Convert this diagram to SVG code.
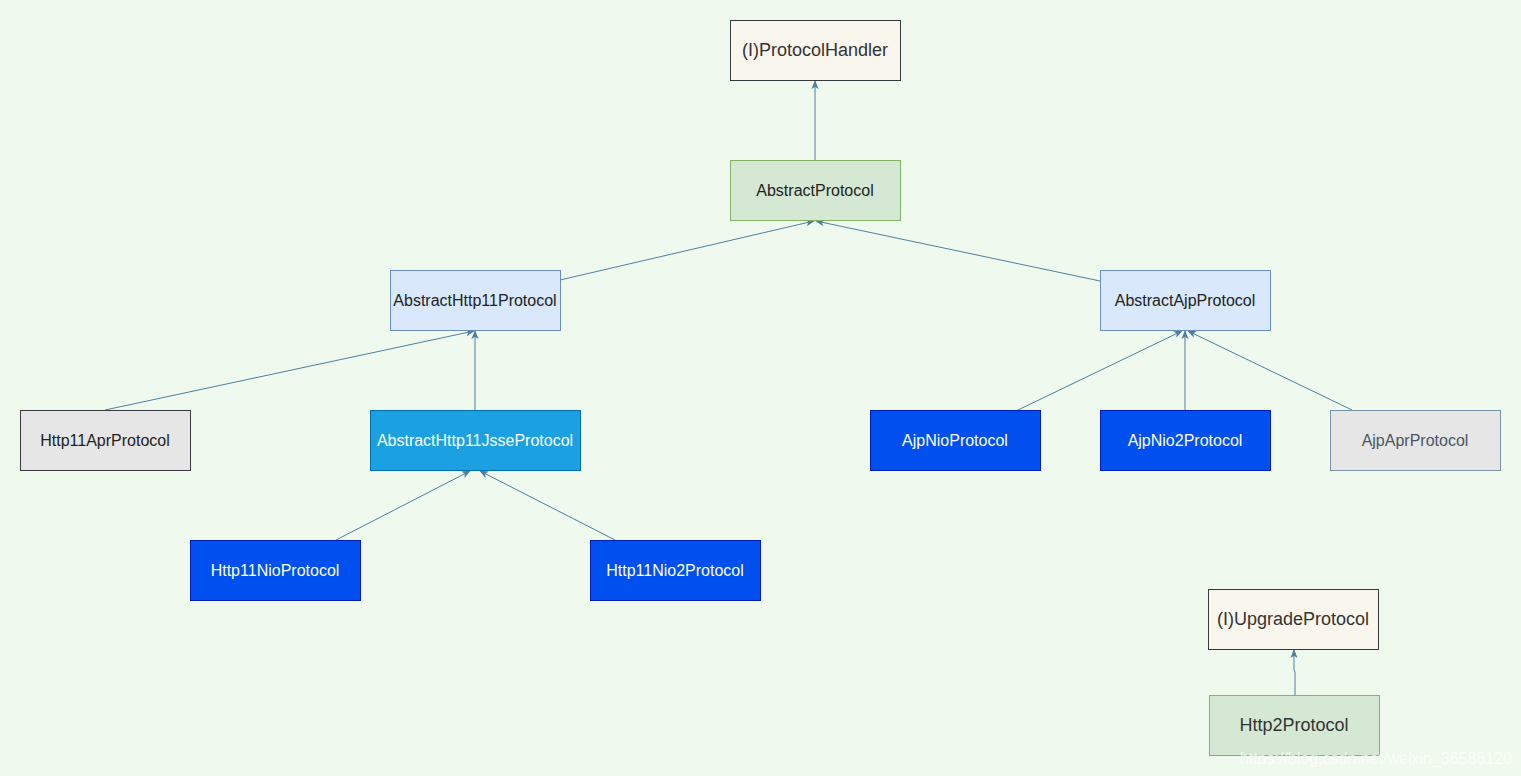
<svg xmlns="http://www.w3.org/2000/svg" width="1521" height="776" viewBox="0 0 1521 776">
<defs>
<style>
.n rect{stroke-width:1}
.t{font-family:"Liberation Sans",Arial,sans-serif;font-size:16px;text-anchor:middle;dominant-baseline:central}
.iface rect{fill:#f9f7ed;stroke:#36393d}
.iface text{fill:#333;font-size:18px}
.green rect{fill:#d5e8d4;stroke:#82b366}
.green text{fill:#222}
.blue rect{fill:#dae8fc;stroke:#6c8ebf}
.blue text{fill:#222}
.gray rect{fill:#e6e6e6;stroke:#36393d}
.gray text{fill:#222}
.gray2 rect{fill:#e6e6e6;stroke:#7a90a8}
.gray2 text{fill:#4a5564}
.sky rect{fill:#1ba1e2;stroke:#006eaf}
.sky text{fill:#fff}
.dark rect{fill:#0050ef;stroke:#001dbc}
.dark text{fill:#fff}
.c path{fill:none;stroke:#4f7f9f;stroke-width:1;marker-end:url(#ar)}
</style>
<marker id="ar" viewBox="0 0 10 10" refX="9" refY="5" markerWidth="9" markerHeight="9" markerUnits="userSpaceOnUse" orient="auto">
<path d="M0,1 L10,5 L0,9 L2.5,5 Z" fill="#4f7f9f"/>
</marker>
</defs>
<rect width="1521" height="776" fill="#f0f9ed"/>
<g id="connectors" class="c">
<path d="M815,160 L815,81"/>
<path d="M560,280 L814,221"/>
<path d="M1100,281 L816,221"/>
<path d="M105,410 L474,331"/>
<path d="M475,410 L475,331"/>
<path d="M336,540 L470,471"/>
<path d="M615,540 L480,471"/>
<path d="M1018,410 L1182,331"/>
<path d="M1185,410 L1185,331"/>
<path d="M1352,410 L1188,331"/>
<path d="M1295,695 L1295,672 L1294,670 L1294,650"/>
</g>
<g id="ProtocolHandler" class="n iface"><rect x="730.5" y="20.5" width="170" height="60"/><text class="t" x="815" y="50">(I)ProtocolHandler</text></g>
<g id="AbstractProtocol" class="n green"><rect x="730.5" y="160.5" width="170" height="60"/><text class="t" x="815" y="190">AbstractProtocol</text></g>
<g id="AbstractHttp11Protocol" class="n blue"><rect x="390.5" y="270.5" width="170" height="60"/><text class="t" x="475" y="300">AbstractHttp11Protocol</text></g>
<g id="AbstractAjpProtocol" class="n blue"><rect x="1100.5" y="270.5" width="170" height="60"/><text class="t" x="1185" y="300">AbstractAjpProtocol</text></g>
<g id="Http11AprProtocol" class="n gray"><rect x="20.5" y="410.5" width="170" height="60"/><text class="t" x="105" y="440">Http11AprProtocol</text></g>
<g id="AbstractHttp11JsseProtocol" class="n sky"><rect x="370.5" y="410.5" width="210" height="60"/><text class="t" x="475" y="440">AbstractHttp11JsseProtocol</text></g>
<g id="AjpNioProtocol" class="n dark"><rect x="870.5" y="410.5" width="170" height="60"/><text class="t" x="955" y="440">AjpNioProtocol</text></g>
<g id="AjpNio2Protocol" class="n dark"><rect x="1100.5" y="410.5" width="170" height="60"/><text class="t" x="1185" y="440">AjpNio2Protocol</text></g>
<g id="AjpAprProtocol" class="n gray2"><rect x="1330.5" y="410.5" width="170" height="60"/><text class="t" x="1415" y="440">AjpAprProtocol</text></g>
<g id="Http11NioProtocol" class="n dark"><rect x="190.5" y="540.5" width="170" height="60"/><text class="t" x="275" y="570">Http11NioProtocol</text></g>
<g id="Http11Nio2Protocol" class="n dark"><rect x="590.5" y="540.5" width="170" height="60"/><text class="t" x="675" y="570">Http11Nio2Protocol</text></g>
<g id="UpgradeProtocol" class="n iface"><rect x="1208.5" y="589.5" width="170" height="60"/><text class="t" x="1293" y="619">(I)UpgradeProtocol</text></g>
<g id="Http2Protocol" class="n green"><rect x="1209.5" y="695.5" width="170" height="60"/><text class="t" x="1294" y="725" style="font-size:18px;fill:#333">Http2Protocol</text></g>
<text x="1512" y="758" font-family="Liberation Sans,Arial,sans-serif" font-size="16" fill="#ffffff" fill-opacity="0.75" text-anchor="end" dominant-baseline="central">https://blog.csdn.net/weixin_36586120</text>
</svg>
